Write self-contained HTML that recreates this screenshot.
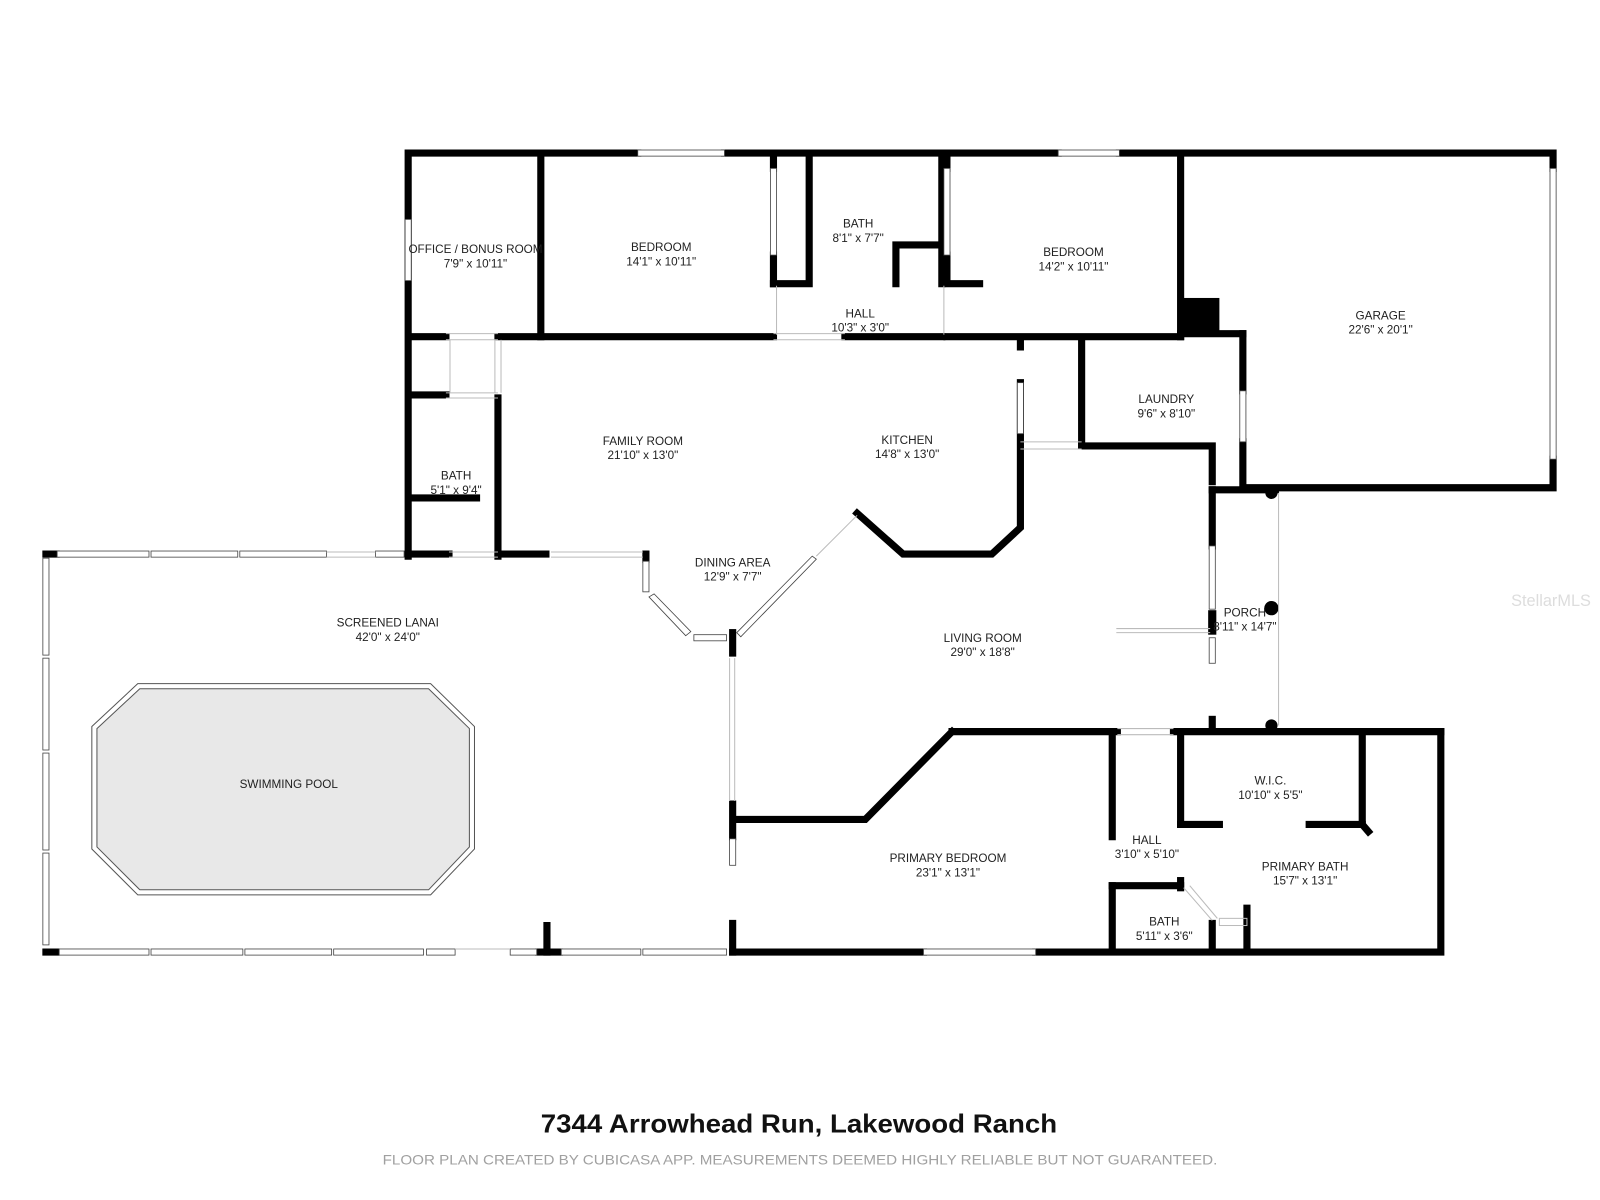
<!DOCTYPE html>
<html><head><meta charset="utf-8"><style>
html,body{margin:0;padding:0;background:#fff;width:1600px;height:1200px;overflow:hidden}
svg{display:block}
text{font-family:"Liberation Sans",sans-serif;fill:#222;text-anchor:middle}
.l{font-size:11.5px}
</style></head><body>
<svg width="1600" height="1200" viewBox="0 0 1568 1176" xmlns="http://www.w3.org/2000/svg">
<g fill="none" stroke="#000" stroke-width="7" stroke-linecap="square" stroke-linejoin="miter">
<polyline points="400,545 400,150 625,150"/>
<polyline points="710,150 1037,150"/>
<polyline points="1097,150 1522,150 1522,165"/>
<polyline points="1522,450 1522,478 1222,478"/>
<line x1="1218" y1="327" x2="1218" y2="383"/>
<line x1="1218" y1="433" x2="1218" y2="478"/>
<line x1="1157" y1="150" x2="1157" y2="330"/>
<polyline points="1157,327 1218,327"/>
<line x1="404" y1="330" x2="437" y2="330"/>
<line x1="488" y1="330" x2="758" y2="330"/>
<line x1="828" y1="330" x2="923" y2="330"/>
<line x1="928" y1="330" x2="1157" y2="330"/>
<line x1="530" y1="150" x2="530" y2="330"/>
<line x1="758" y1="150" x2="758" y2="165"/>
<line x1="758" y1="250" x2="758" y2="278"/>
<polyline points="758,278 793,278 793,150"/>
<polyline points="923,150 923,278"/>
<polyline points="928,150 928,165"/>
<polyline points="928,250 928,278 960,278"/>
<polyline points="878,278 878,240 923,240"/>
<line x1="404" y1="387" x2="437" y2="387"/>
<polyline points="488,390 488,545"/>
<line x1="404" y1="488" x2="467" y2="488"/>
<line x1="400" y1="543" x2="440" y2="543"/>
<line x1="488" y1="543" x2="535" y2="543"/>
<line x1="633" y1="543" x2="633" y2="548"/>
<polyline points="840,503 885,543 972,543 1000,517 1000,375"/>
<line x1="1000" y1="335" x2="1000" y2="340"/>
<line x1="1060" y1="335" x2="1060" y2="437"/>
<polyline points="1060,437 1188,437 1188,472"/>
<polyline points="1188,480 1250,480"/>
<line x1="1188" y1="480" x2="1188" y2="535"/>
<line x1="1188" y1="705" x2="1188" y2="715"/>
<line x1="933" y1="717" x2="1095" y2="717"/>
<line x1="1150" y1="717" x2="1412" y2="717"/>
<polyline points="1412,717 1412,933 1015,933"/>
<line x1="905" y1="933" x2="718" y2="933"/>
<polyline points="933,717 848,803 722,803"/>
<line x1="718" y1="620" x2="718" y2="640"/>
<line x1="718" y1="788" x2="718" y2="820"/>
<line x1="718" y1="905" x2="718" y2="933"/>
<line x1="1090" y1="717" x2="1090" y2="820"/>
<line x1="1090" y1="868" x2="1090" y2="930"/>
<line x1="1157" y1="717" x2="1157" y2="808"/>
<line x1="1157" y1="808" x2="1195" y2="808"/>
<line x1="1283" y1="808" x2="1335" y2="808"/>
<polyline points="1335,717 1335,808 1341,815"/>
<line x1="1090" y1="868" x2="1157" y2="868"/>
<line x1="1188" y1="905" x2="1188" y2="930"/>
<line x1="1222" y1="890" x2="1222" y2="930"/>
<line x1="1157" y1="863" x2="1157" y2="870"/>
<line x1="45" y1="543" x2="55" y2="543"/>
<line x1="45" y1="933" x2="55" y2="933"/>
<line x1="536" y1="907" x2="536" y2="933"/>
<line x1="528" y1="933" x2="548" y2="933"/>
</g>
<rect x="1155" y="292" width="40" height="38" fill="#000"/>
<circle cx="1246" cy="483" r="6" fill="#000"/>
<circle cx="1246" cy="596" r="7" fill="#000"/>
<circle cx="1246" cy="711" r="6" fill="#000"/>
<rect x="1184" y="598" width="8" height="24" fill="#000"/>
<g fill="#fff" stroke="#444" stroke-width="0.8">
<rect x="625" y="147" width="85" height="6"/>
<rect x="1037" y="147" width="60" height="6"/>
<rect x="1519" y="165" width="6" height="285"/>
<rect x="397" y="215" width="6" height="60"/>
<rect x="1215" y="383" width="6" height="50"/>
<rect x="755" y="165" width="6" height="85"/>
<rect x="925" y="165" width="6" height="85"/>
<rect x="997" y="375" width="6" height="50"/>
<rect x="56" y="540" width="90" height="6"/><rect x="148" y="540" width="85" height="6"/><rect x="235" y="540" width="85" height="6"/><rect x="368" y="540" width="28" height="6"/>
<rect x="42" y="547" width="6" height="95"/><rect x="42" y="645" width="6" height="90"/><rect x="42" y="738" width="6" height="95"/><rect x="42" y="836" width="6" height="90"/>
<rect x="58" y="930" width="88" height="6"/><rect x="148" y="930" width="90" height="6"/><rect x="240" y="930" width="85" height="6"/><rect x="327" y="930" width="88" height="6"/><rect x="418" y="930" width="28" height="6"/><rect x="500" y="930" width="26" height="6"/><rect x="550" y="930" width="78" height="6"/><rect x="630" y="930" width="82" height="6"/>
<rect x="905" y="930" width="110" height="6"/>
<rect x="630" y="550" width="6" height="30"/>
<rect x="680" y="622" width="32" height="6"/>
<rect x="715" y="822" width="6" height="26"/>
<rect x="1185" y="535" width="6" height="62"/>
<rect x="1185" y="625" width="6" height="25"/>
<polygon points="636,585 641,582 677,619 672,623"/>
<polygon points="722,620 726,624 800,548 796,545"/>
</g>
<g fill="none" stroke="#bbb" stroke-width="1">
<line x1="540" y1="541" x2="630" y2="541"/><line x1="540" y1="546" x2="630" y2="546"/>
<line x1="320" y1="541" x2="368" y2="541"/><line x1="320" y1="546" x2="368" y2="546"/>
<line x1="440" y1="541" x2="488" y2="541"/><line x1="440" y1="546" x2="488" y2="546"/>
<line x1="437" y1="327" x2="488" y2="327"/><line x1="437" y1="333" x2="488" y2="333"/>
<line x1="437" y1="385" x2="488" y2="385"/><line x1="437" y1="390" x2="488" y2="390"/>
<line x1="441" y1="333" x2="441" y2="385"/><line x1="485" y1="333" x2="485" y2="385"/><line x1="491" y1="333" x2="491" y2="385"/>
<line x1="758" y1="327" x2="828" y2="327"/><line x1="758" y1="333" x2="828" y2="333"/>
<line x1="761" y1="280" x2="761" y2="328"/><line x1="925" y1="280" x2="925" y2="328"/>
<line x1="1000" y1="433" x2="1060" y2="433"/><line x1="1000" y1="440" x2="1060" y2="440"/>
<line x1="1095" y1="714" x2="1150" y2="714"/><line x1="1095" y1="720" x2="1150" y2="720"/>
<line x1="1253" y1="483" x2="1253" y2="711"/>
<line x1="1094" y1="616" x2="1186" y2="616"/><line x1="1094" y1="620" x2="1186" y2="620"/>
<line x1="715" y1="645" x2="715" y2="785"/><line x1="720" y1="645" x2="720" y2="785"/>
<line x1="800" y1="545" x2="840" y2="505"/>
<line x1="446" y1="930" x2="500" y2="930"/>
<line x1="1160" y1="870" x2="1188" y2="902"/><line x1="1166" y1="868" x2="1193" y2="900"/>
<rect x="1195" y="900" width="27" height="7"/>
</g>
<polygon points="90,712 135,670 422,670 465,712 465,832 422,877 135,877 90,832" fill="#fff" stroke="#555" stroke-width="1"/>
<polygon points="95,714 137,675 420,675 460,714 460,830 420,872 137,872 95,830" fill="#e8e8e8" stroke="#555" stroke-width="1"/>
<g class="l">
<text x="466" y="248">OFFICE / BONUS ROOM</text><text x="466" y="262">7'9" x 10'11"</text>
<text x="648" y="246">BEDROOM</text><text x="648" y="260">14'1" x 10'11"</text>
<text x="841" y="223">BATH</text><text x="841" y="237">8'1" x 7'7"</text>
<text x="1052" y="251">BEDROOM</text><text x="1052" y="265">14'2" x 10'11"</text>
<text x="843" y="311">HALL</text><text x="843" y="325">10'3" x 3'0"</text>
<text x="1353" y="313">GARAGE</text><text x="1353" y="327">22'6" x 20'1"</text>
<text x="1143" y="395">LAUNDRY</text><text x="1143" y="409">9'6" x 8'10"</text>
<text x="630" y="436">FAMILY ROOM</text><text x="630" y="450">21'10" x 13'0"</text>
<text x="889" y="435">KITCHEN</text><text x="889" y="449">14'8" x 13'0"</text>
<text x="447" y="470">BATH</text><text x="447" y="484">5'1" x 9'4"</text>
<text x="718" y="555">DINING AREA</text><text x="718" y="569">12'9" x 7'7"</text>
<text x="380" y="614">SCREENED LANAI</text><text x="380" y="628">42'0" x 24'0"</text>
<text x="1220" y="604">PORCH</text><text x="1220" y="618">8'11" x 14'7"</text>
<text x="963" y="629">LIVING ROOM</text><text x="963" y="643">29'0" x 18'8"</text>
<text x="283" y="772">SWIMMING POOL</text>
<text x="1245" y="769">W.I.C.</text><text x="1245" y="783">10'10" x 5'5"</text>
<text x="1124" y="827">HALL</text><text x="1124" y="841">3'10" x 5'10"</text>
<text x="929" y="845">PRIMARY BEDROOM</text><text x="929" y="859">23'1" x 13'1"</text>
<text x="1279" y="853">PRIMARY BATH</text><text x="1279" y="867">15'7" x 13'1"</text>
<text x="1141" y="907">BATH</text><text x="1141" y="921">5'11" x 3'6"</text>
</g>
<text x="1520" y="594" style="font-size:16px;fill:#ddd">StellarMLS</text>
<text x="783" y="1110" style="font-size:25px;font-weight:bold;fill:#111" textLength="506" lengthAdjust="spacingAndGlyphs">7344 Arrowhead Run, Lakewood Ranch</text>
<text x="784" y="1141" style="font-size:14px;fill:#a0a0a0" textLength="818" lengthAdjust="spacingAndGlyphs">FLOOR PLAN CREATED BY CUBICASA APP. MEASUREMENTS DEEMED HIGHLY RELIABLE BUT NOT GUARANTEED.</text>
</svg>
</body></html>
